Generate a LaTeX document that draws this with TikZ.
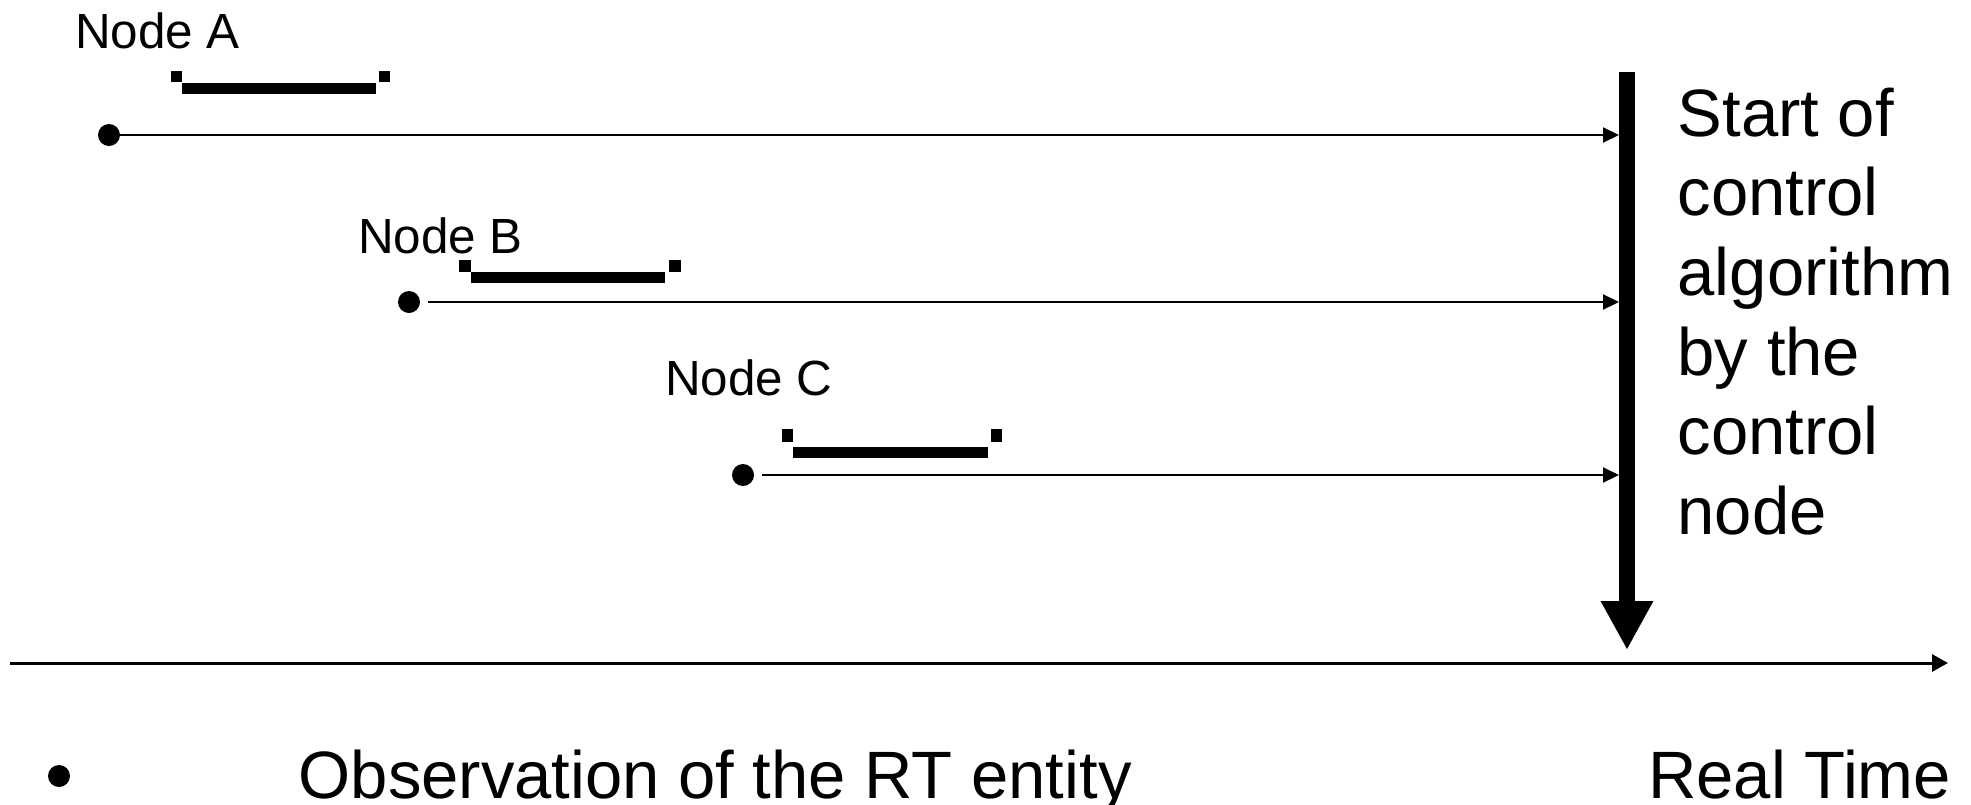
\documentclass[tikz,border=0pt]{standalone}
\usepackage{fontspec}
\setmainfont{Liberation Sans}
\usetikzlibrary{arrows.meta,calc}

\tikzset{
  obsdot/.style={circle,fill=black,inner sep=0pt,minimum size=22pt},
  nodelabel/.style={anchor=base west,inner sep=0pt,font=\fontsize{49.4}{59}\selectfont},
  biglabel/.style={anchor=base west,inner sep=0pt,font=\fontsize{67}{80}\selectfont},
  msgline/.style={line width=2pt,-{Triangle[length=16pt,width=15pt]}},
  interval/.style={fill=black},
}

\begin{document}
\begin{tikzpicture}[x=1pt,y=-1pt]
\useasboundingbox (0,0) rectangle (1971,804);

% start of the control algorithm (thick vertical arrow)
\coordinate (barTop) at (1627,72);
\coordinate (barTip) at (1627,650);
\coordinate (barL) at (1619,0);
\draw[line width=16.5pt,-{Triangle[length=49pt,width=49pt]}] (barTop) -- (barTip);

% real-time axis
\coordinate (axisL) at (10,663);
\coordinate (axisR) at (1948,663);
\draw[line width=3pt,-{Triangle[length=16pt,width=17pt]}] (axisL) -- (axisR);

% node A
\node[nodelabel] (labA) at (75,48) {Node A};
\fill[interval] (171,71) rectangle (182,82);
\fill[interval] (182,83) rectangle (376,94);
\fill[interval] (379,71) rectangle (390,82);
\node[obsdot] (dotA) at (109,135) {};
\draw[msgline] (dotA.east) -- (dotA.east -| barL);

% node B
\node[nodelabel] (labB) at (358,253) {Node B};
\fill[interval] (459,260) rectangle (471,272);
\fill[interval] (471,272) rectangle (665,283);
\fill[interval] (669,260) rectangle (681,272);
\node[obsdot] (dotB) at (409,302) {};
\draw[msgline,shorten <=8pt] (dotB.east) -- (dotB.east -| barL);

% node C
\node[nodelabel] (labC) at (665,395) {Node C};
\fill[interval] (782,429) rectangle (793,442);
\fill[interval] (793,447) rectangle (988,458);
\fill[interval] (991,429) rectangle (1002,442);
\node[obsdot] (dotC) at (743,475) {};
\draw[msgline,shorten <=8pt] (dotC.east) -- (dotC.east -| barL);

% annotation of the control node
\node[biglabel] (s1) at (1677.5,136) {Start of};
\node[biglabel] (s2) at (1677.5,215.7) {control};
\node[biglabel] (s3) at (1677.5,295.4) {algorithm};
\node[biglabel] (s4) at (1677.5,375.1) {by the};
\node[biglabel] (s5) at (1677.5,454.8) {control};
\node[biglabel] (s6) at (1677.5,534.5) {node};

% legend and axis label
\node[obsdot] (legdot) at (59,776) {};
\node[biglabel] (legtext) at (298.5,798) {Observation of the RT entity};
\node[biglabel] (axislabel) at (1648,798) {Real Time};
\end{tikzpicture}
\end{document}
